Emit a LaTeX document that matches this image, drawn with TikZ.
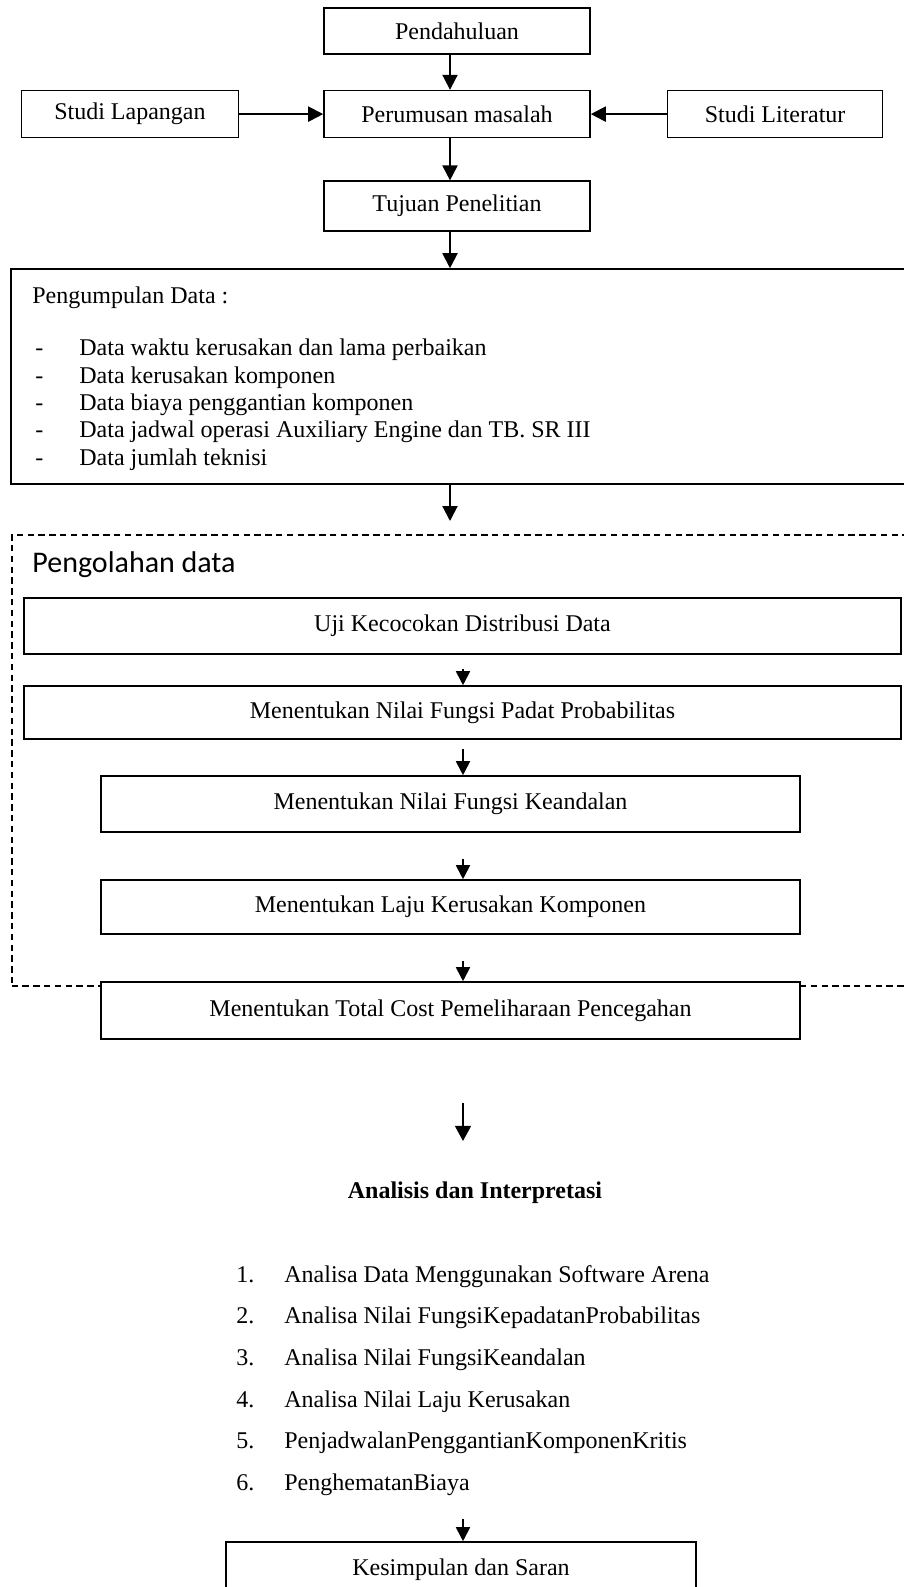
\documentclass[tikz,border=0pt]{standalone}
\usepackage{fontspec}
\setmainfont{Liberation Serif}
\newfontfamily\calibri{Carlito}
\usetikzlibrary{arrows.meta,positioning}

\begin{document}
\begin{tikzpicture}[x=0.5pt,y=-0.5pt,
      node distance=17.5pt and 42pt,
      box/.style={draw,line width=0.8pt,minimum height=23.5pt,inner sep=2pt,
                  font=\fontsize{12}{14}\selectfont},
      txt/.style={anchor=base west,inner sep=0pt,font=\fontsize{12}{14}\selectfont},
      arr/.style={-{Triangle[length=7.5pt,width=7.5pt]},line width=1pt},
      sarr/.style={-{Triangle[length=7pt,width=7pt]},line width=0.9pt},
      frame/.style={draw,dash pattern=on 3.2pt off 2.2pt,line width=1pt,inner sep=0pt},
    ]
    \useasboundingbox (0,0) rectangle (904,1587);
    \clip (0,0) rectangle (904,1587);
    \coordinate (ax) at (450,0);
    \coordinate (bx) at (463,0);

    % top part
    \node[box,minimum width=133pt,minimum height=23pt] (pend) at (457,31) {Pendahuluan};
    \node[box,minimum width=133pt,below=17.5pt of pend] (perum) {Perumusan masalah};
    \node[box,minimum width=108.5pt,left=42pt of perum] (lap) {Studi Lapangan};
    \node[box,minimum width=107.5pt,right=38pt of perum] (lit) {Studi Literatur};
    \node[box,minimum width=133pt,minimum height=25pt,below=21pt of perum] (tuj) {Tujuan Penelitian};

    \draw[arr] (pend.south -| ax) -- (perum.north -| ax);
    \draw[arr] (lap) -- (perum);
    \draw[arr] (lit) -- (perum);
    \draw[arr] (perum.south -| ax) -- (tuj.north -| ax);

    % data collection
    \node[box,minimum width=452pt,minimum height=107.5pt] (kumpul) at (463,376.5) {};
    \draw[arr] (tuj.south -| ax) -- (kumpul.north -| ax);
    \node[txt] (kjudul) at (32,303) {Pengumpulan Data :};
    \node[txt] (s1) at (35,355) {-};
    \node[txt] (k1) at (79,355) {Data waktu kerusakan dan lama perbaikan};
    \node[txt] (s2) at (35,383) {-};
    \node[txt] (k2) at (79,383) {Data kerusakan komponen};
    \node[txt] (s3) at (35,410) {-};
    \node[txt] (k3) at (79,410) {Data biaya penggantian komponen};
    \node[txt] (s4) at (35,437) {-};
    \node[txt] (k4) at (79,437) {Data jadwal operasi Auxiliary Engine dan TB. SR III};
    \node[txt] (s5) at (35,465) {-};
    \node[txt] (k5) at (79,465) {Data jumlah teknisi};

    % data processing (dashed frame)
    \node[frame,minimum width=451.75pt,minimum height=225.5pt] (olah) at (463.25,760.5) {};
    \draw[arr,shorten >=6.5pt] (kumpul.south -| ax) -- (olah.north -| ax);
    \node[anchor=base west,inner sep=0pt,font=\calibri\fontsize{15}{18}\selectfont]
          (ojudul) at (32,572) {Pengolahan data};

    \node[box,minimum width=438.5pt,minimum height=28pt] (uji) at (462.5,626) {Uji Kecocokan Distribusi Data};
    \node[box,minimum width=438.5pt,minimum height=26.5pt] (padat) at (462.5,712.5) {Menentukan Nilai Fungsi Padat Probabilitas};
    \node[box,minimum width=349.5pt,minimum height=28pt] (keand) at (450.5,804) {Menentukan Nilai Fungsi Keandalan};
    \node[box,minimum width=349.5pt,minimum height=27pt] (laju) at (450.5,907) {Menentukan Laju Kerusakan Komponen};
    \node[box,fill=white,minimum width=349.5pt,minimum height=28.5pt] (total) at (450.5,1010.5)
          {Menentukan Total Cost Pemeliharaan Pencegahan};

    \draw[sarr,shorten <=7pt] (uji.south -| bx) -- (padat.north -| bx);
    \draw[sarr,shorten <=4.5pt] (padat.south -| bx) -- (keand.north -| bx);
    \draw[sarr,shorten <=13pt] (keand.south -| bx) -- (laju.north -| bx);
    \draw[sarr,shorten <=13pt] (laju.south -| bx) -- (total.north -| bx);

    % analysis
    \node[anchor=base,inner sep=0pt,font=\bfseries\fontsize{12}{14}\selectfont] (ana) at (475,1198)
          {Analisis dan Interpretasi};
    \draw[-{Triangle[length=7.5pt,width=8pt]},line width=0.6pt,shorten <=31.5pt,shorten >=20pt]
          (total.south -| bx) -- (ana.north -| bx);

    \node[txt] (n1) at (236,1282) {1.};
    \node[txt] (a1) at (284,1282) {Analisa Data Menggunakan Software Arena};
    \node[txt] (n2) at (236,1323) {2.};
    \node[txt] (a2) at (284,1323) {Analisa Nilai FungsiKepadatanProbabilitas};
    \node[txt] (n3) at (236,1365) {3.};
    \node[txt] (a3) at (284,1365) {Analisa Nilai FungsiKeandalan};
    \node[txt] (n4) at (236,1407) {4.};
    \node[txt] (a4) at (284,1407) {Analisa Nilai Laju Kerusakan};
    \node[txt] (n5) at (236,1448) {5.};
    \node[txt] (a5) at (284,1448) {PenjadwalanPenggantianKomponenKritis};
    \node[txt] (n6) at (236,1490) {6.};
    \node[txt] (a6) at (284,1490) {PenghematanBiaya};

    % conclusion
    \node[box,minimum width=235pt,minimum height=28pt] (kesim) at (461,1570) {Kesimpulan dan Saran};
    \draw[sarr,shorten <=11.5pt] (a6.south -| bx) -- (kesim.north -| bx);
  \end{tikzpicture}
\end{document}
